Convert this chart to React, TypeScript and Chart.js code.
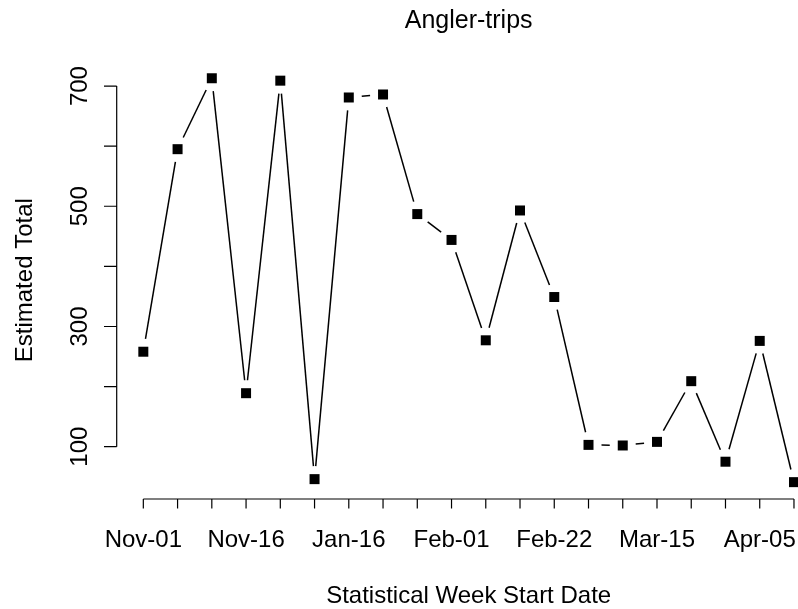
import React, { useEffect, useRef } from "react";
import { Chart, registerables } from "chart.js";

Chart.register(...registerables);

// ---- Data ----
const weekLabels = [
  "Nov-01", "Nov-02", "Nov-09", "Nov-16", "Nov-23", "Nov-30",
  "Jan-16", "Jan-18", "Jan-25", "Feb-01", "Feb-08", "Feb-15",
  "Feb-22", "Mar-01", "Mar-08", "Mar-15", "Mar-22", "Mar-29",
  "Apr-05", "Apr-12",
];
const estimatedTotals = [
  258, 595, 713, 189, 709, 46, 681, 686, 487, 444,
  277, 493, 349, 103, 102, 108, 209, 75, 276, 41,
];
const yTicks = [100, 200, 300, 400, 500, 600, 700];
const chartTitle = "Angler-trips";
const xAxisTitle = "Statistical Week Start Date";
const yAxisTitle = "Estimated Total";

const FONT = '"Liberation Sans", Arial, sans-serif';
const CANVAS_W = 840;
const CANVAS_H = 609;

// R-like axis range: data range extended by 4%
const n = estimatedTotals.length;
const xPad = (n - 1) * 0.04;
const yMinData = Math.min(...estimatedTotals);
const yMaxData = Math.max(...estimatedTotals);
const yPad = (yMaxData - yMinData) * 0.04;

const GAP = 13;

const rStylePlugin = {
  id: "rStyle",
  beforeDatasetsDraw(chart: any) {
    const ctx = chart.ctx as CanvasRenderingContext2D;
    const pts = chart.getDatasetMeta(0).data;
    ctx.save();
    ctx.strokeStyle = "#000";
    ctx.lineWidth = 1.5;
    ctx.lineCap = "butt";
    for (let i = 0; i < pts.length - 1; i++) {
      const a = pts[i], b = pts[i + 1];
      const dx = b.x - a.x, dy = b.y - a.y;
      const len = Math.hypot(dx, dy);
      if (len <= 2 * GAP) continue;
      const ux = dx / len, uy = dy / len;
      ctx.beginPath();
      ctx.moveTo(a.x + ux * GAP, a.y + uy * GAP);
      ctx.lineTo(b.x - ux * GAP, b.y - uy * GAP);
      ctx.stroke();
    }
    ctx.restore();
  },
  afterDraw(chart: any) {
    const ctx = chart.ctx as CanvasRenderingContext2D;
    const xs = chart.scales.x;
    const ys = chart.scales.y;
    const area = chart.chartArea;
    ctx.save();
    ctx.strokeStyle = "#000";
    ctx.fillStyle = "#000";
    ctx.lineWidth = 1.2;

    // X axis
    const xAxisY = area.bottom + 0.7;
    const x0 = xs.getPixelForValue(1);
    const x1 = xs.getPixelForValue(n);
    ctx.beginPath();
    ctx.moveTo(x0, xAxisY);
    ctx.lineTo(x1, xAxisY);
    for (let i = 1; i <= n; i++) {
      const px = xs.getPixelForValue(i);
      ctx.moveTo(px, xAxisY);
      ctx.lineTo(px, xAxisY + 9.5);
    }
    ctx.stroke();

    ctx.font = `24px ${FONT}`;
    ctx.textAlign = "center";
    ctx.textBaseline = "alphabetic";
    let lastRight = -Infinity;
    const gapX = 24;
    weekLabels.forEach((lab, i) => {
      const px = xs.getPixelForValue(i + 1);
      const w = ctx.measureText(lab).width;
      const left = px - w / 2;
      if (left >= lastRight + gapX) {
        ctx.fillText(lab, px, 547.3);
        lastRight = px + w / 2;
      }
    });

    // Y axis
    const yAxisX = area.left - 0.6;
    const yA = ys.getPixelForValue(yTicks[0]);
    const yB = ys.getPixelForValue(yTicks[yTicks.length - 1]);
    ctx.beginPath();
    ctx.moveTo(yAxisX, yA);
    ctx.lineTo(yAxisX, yB);
    yTicks.forEach((t) => {
      const py = ys.getPixelForValue(t);
      ctx.moveTo(yAxisX, py);
      ctx.lineTo(yAxisX - 12.7, py);
    });
    ctx.stroke();

    let lastTop = Infinity;
    yTicks.forEach((t) => {
      const py = ys.getPixelForValue(t);
      const lab = String(t);
      const w = ctx.measureText(lab).width;
      const bottom = py + w / 2;
      if (bottom <= lastTop - gapX) {
        ctx.save();
        ctx.translate(87, py);
        ctx.rotate(-Math.PI / 2);
        ctx.textAlign = "center";
        ctx.fillText(lab, 0, 0);
        ctx.restore();
        lastTop = py - w / 2;
      }
    });

    // Titles
    const cx = (area.left + area.right) / 2;
    const cy = (area.top + area.bottom) / 2;
    ctx.font = `25px ${FONT}`;
    ctx.textAlign = "center";
    ctx.fillText(chartTitle, cx, 28.3);

    ctx.font = `24px ${FONT}`;
    ctx.fillText(xAxisTitle, cx, 603.3);

    ctx.save();
    ctx.translate(31.7, cy);
    ctx.rotate(-Math.PI / 2);
    ctx.textAlign = "center";
    ctx.fillText(yAxisTitle, 0, 0);
    ctx.restore();

    ctx.restore();
  },
};

export default function App() {
  const canvasRef = useRef<HTMLCanvasElement | null>(null);

  useEffect(() => {
    if (!canvasRef.current) return;
    const chart = new Chart(canvasRef.current, {
      type: "line",
      data: {
        datasets: [
          {
            data: estimatedTotals.map((v, i) => ({ x: i + 1, y: v })),
            showLine: false,
            pointStyle: "rect",
            pointRadius: 7.07,
            pointHoverRadius: 7.07,
            backgroundColor: "#000",
            borderColor: "#000",
            borderWidth: 0,
            clip: false as any,
          },
        ],
      },
      options: {
        animation: false,
        responsive: false,
        maintainAspectRatio: false,
        events: [],
        layout: {
          padding: { left: 117.3, top: 62.1, right: CANVAS_W - 820, bottom: CANVAS_H - 498.3 },
        },
        scales: {
          x: { type: "linear", display: false, min: 1 - xPad, max: n + xPad },
          y: { type: "linear", display: false, min: yMinData - yPad, max: yMaxData + yPad },
        },
        plugins: {
          legend: { display: false },
          tooltip: { enabled: false },
          title: { display: false },
        },
      },
      plugins: [rStylePlugin],
    });
    return () => chart.destroy();
  }, []);

  return (
    <div
      style={{
        position: "fixed",
        left: 0,
        top: 0,
        width: 798,
        height: 609,
        overflow: "hidden",
        background: "#fff",
      }}
    >
      <canvas
        ref={canvasRef}
        width={CANVAS_W}
        height={CANVAS_H}
        style={{ display: "block", width: CANVAS_W, height: CANVAS_H }}
      />
    </div>
  );
}
